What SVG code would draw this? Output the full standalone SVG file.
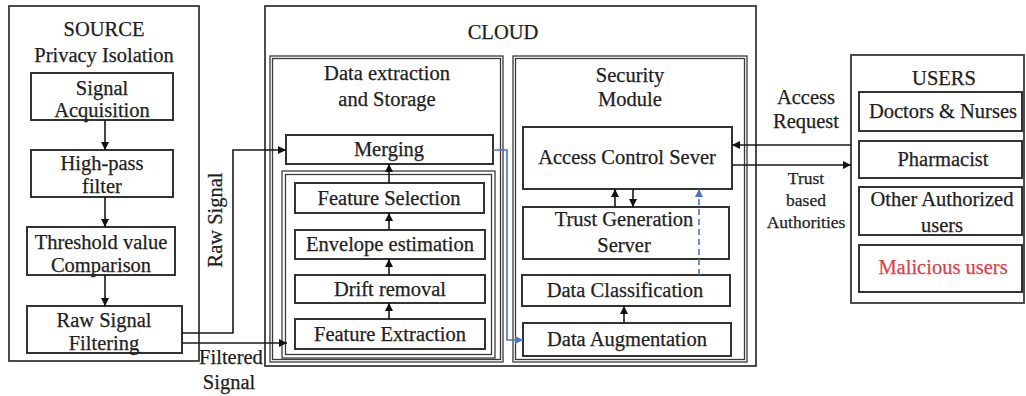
<svg xmlns="http://www.w3.org/2000/svg" width="1026" height="396" viewBox="0 0 1026 396">
<style>
.t{font-family:"Liberation Serif","Times New Roman",serif;font-size:20.5px;fill:#1e1e1e;text-anchor:middle;stroke:#1e1e1e;stroke-width:0.25}
.s{font-size:17.5px}
.red{fill:#d8424e;stroke:#d8424e}
.box{fill:#fff;stroke:#333;stroke-width:2}
.frame{fill:none;stroke:#3a3a3a;stroke-width:1.8}
.thin{fill:none;stroke:#3a3a3a;stroke-width:1.3}
.ln{fill:none;stroke:#1a1a1a;stroke-width:1.6}
.blue{fill:none;stroke:#4a74c4;stroke-width:1.6}
.dash{stroke-dasharray:6 4}
</style>
<defs>
<marker id="ah" viewBox="0 0 10 10" refX="10" refY="5" markerWidth="8" markerHeight="8" orient="auto" markerUnits="userSpaceOnUse">
<path d="M0,0 L10,5 L0,10 z" fill="#111"/>
</marker>
<marker id="ahb" viewBox="0 0 10 10" refX="10" refY="5" markerWidth="8" markerHeight="8" orient="auto" markerUnits="userSpaceOnUse">
<path d="M0,0 L10,5 L0,10 z" fill="#4a74c4"/>
</marker>
</defs>
<rect width="1026" height="396" fill="#fff"/>

<!-- SOURCE -->
<g id="source">
<rect class="frame" x="9" y="6" width="190" height="355"/>
<text class="t" x="104" y="36">SOURCE</text>
<text class="t" x="104" y="62">Privacy Isolation</text>
</g>
<g id="signal-acquisition">
<rect class="box" x="31" y="73" width="142" height="47"/>
<text class="t" x="102" y="95">Signal</text>
<text class="t" x="102" y="117">Acquisition</text>
</g>
<g id="high-pass">
<rect class="box" x="31" y="150" width="142" height="47"/>
<text class="t" x="102" y="170">High-pass</text>
<text class="t" x="102" y="193">filter</text>
</g>
<g id="threshold">
<rect class="box" x="27" y="227" width="148" height="48"/>
<text class="t" x="101" y="249">Threshold value</text>
<text class="t" x="101" y="272">Comparison</text>
</g>
<g id="raw-filtering">
<rect class="box" x="27" y="306" width="155" height="47"/>
<text class="t" x="104" y="327">Raw Signal</text>
<text class="t" x="104" y="350">Filtering</text>
</g>

<!-- CLOUD -->
<g id="cloud">
<rect class="frame" x="265" y="6" width="491" height="360"/>
<text class="t" x="503" y="39">CLOUD</text>
</g>
<g id="data-extraction">
<rect class="thin" x="270" y="56" width="233" height="306"/>
<rect class="thin" x="272.5" y="58.5" width="228" height="301"/>
<text class="t" x="387" y="80">Data extraction</text>
<text class="t" x="387" y="106">and Storage</text>
</g>
<g id="merging">
<rect class="box" x="286" y="135" width="207" height="29"/>
<text class="t" x="389" y="156">Merging</text>
</g>
<g id="feature-group">
<rect class="thin" x="282" y="171" width="213" height="187"/>
<rect class="thin" x="285.5" y="174.5" width="206" height="180"/>
</g>
<g id="feature-selection">
<rect class="box" x="295" y="183" width="189" height="30"/>
<text class="t" x="389" y="205">Feature Selection</text>
</g>
<g id="envelope">
<rect class="box" x="295" y="230" width="190" height="29"/>
<text class="t" x="390" y="251">Envelope estimation</text>
</g>
<g id="drift">
<rect class="box" x="295" y="275" width="190" height="28"/>
<text class="t" x="390" y="296">Drift removal</text>
</g>
<g id="feature-extraction">
<rect class="box" x="295" y="319" width="190" height="30"/>
<text class="t" x="390" y="341">Feature Extraction</text>
</g>

<g id="security-module">
<rect class="thin" x="513" y="56" width="234" height="306"/>
<rect class="thin" x="515.5" y="58.5" width="229" height="301"/>
<text class="t" x="630" y="82">Security</text>
<text class="t" x="630" y="106">Module</text>
</g>
<g id="access-control">
<rect class="box" x="523" y="127" width="209" height="62"/>
<text class="t" x="627" y="164">Access Control Sever</text>
</g>
<g id="trust-generation">
<rect class="box" x="523" y="207" width="206" height="52"/>
<text class="t" x="624" y="226">Trust Generation</text>
<text class="t" x="624" y="252">Server</text>
</g>
<g id="data-classification">
<rect class="box" x="522" y="275" width="208" height="31"/>
<text class="t" x="625" y="297">Data Classification</text>
</g>
<g id="data-augmentation">
<rect class="box" x="523" y="323" width="208" height="33"/>
<text class="t" x="627" y="346">Data Augmentation</text>
</g>

<!-- USERS -->
<g id="users">
<rect class="frame" x="851" y="55" width="173" height="248"/>
<text class="t" x="944" y="85">USERS</text>
</g>
<g id="doctors">
<rect class="box" x="859" y="92" width="163" height="39"/>
<text class="t" x="943" y="118">Doctors &amp; Nurses</text>
</g>
<g id="pharmacist">
<rect class="box" x="859" y="141" width="163" height="37"/>
<text class="t" x="943" y="166">Pharmacist</text>
</g>
<g id="other-users">
<rect class="box" x="859" y="187" width="163" height="48"/>
<text class="t" x="942" y="206">Other Authorized</text>
<text class="t" x="942" y="232">users</text>
</g>
<g id="malicious">
<rect class="box" x="859" y="245" width="163" height="47"/>
<text class="t red" x="943" y="274">Malicious users</text>
</g>

<!-- connectors -->
<g id="connectors">
<line class="ln" x1="105" y1="120" x2="105" y2="150" marker-end="url(#ah)"/>
<line class="ln" x1="105" y1="197" x2="105" y2="227" marker-end="url(#ah)"/>
<line class="ln" x1="105" y1="275" x2="105" y2="306" marker-end="url(#ah)"/>
<polyline class="ln" points="182,333 233,333 233,150 286,150" marker-end="url(#ah)"/>
<line class="ln" x1="182" y1="343" x2="287" y2="343" marker-end="url(#ah)"/>
<line class="ln" x1="389" y1="319" x2="389" y2="303" marker-end="url(#ah)"/>
<line class="ln" x1="389" y1="275" x2="389" y2="259" marker-end="url(#ah)"/>
<line class="ln" x1="389" y1="230" x2="389" y2="213" marker-end="url(#ah)"/>
<line class="ln" x1="389" y1="183" x2="389" y2="164" marker-end="url(#ah)"/>
<polyline class="blue" points="493,150 507,150 507,340 523,340" marker-end="url(#ahb)"/>
<line class="ln" x1="615" y1="207" x2="615" y2="189" marker-end="url(#ah)"/>
<line class="ln" x1="633" y1="189" x2="633" y2="207" marker-end="url(#ah)"/>
<line class="blue dash" x1="699" y1="275" x2="699" y2="189" marker-end="url(#ahb)"/>
<line class="ln" x1="624" y1="323" x2="624" y2="306" marker-end="url(#ah)"/>
<line class="ln" x1="851" y1="145" x2="732" y2="145" marker-end="url(#ah)"/>
<line class="ln" x1="732" y1="165" x2="851" y2="165" marker-end="url(#ah)"/>
<text class="t" x="0" y="0" transform="translate(222,220) rotate(-90)">Raw Signal</text>
<text class="t" x="231" y="364">Filtered</text>
<text class="t" x="229" y="389">Signal</text>
<text class="t" x="806" y="104">Access</text>
<text class="t" x="806" y="128">Request</text>
<text class="t s" x="806" y="184">Trust</text>
<text class="t s" x="806" y="206">based</text>
<text class="t s" x="806" y="228">Authorities</text>
</g>
</svg>
